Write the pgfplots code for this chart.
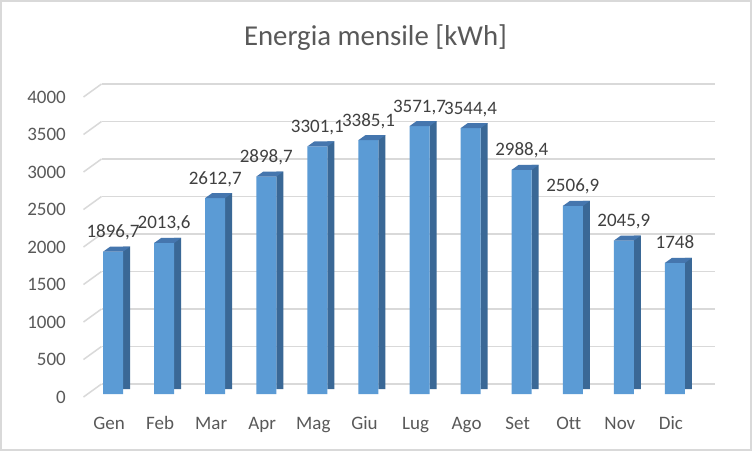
\documentclass[border=0pt]{standalone}
\usepackage{pgfplots}
\pgfplotsset{compat=1.18}
\usepackage{pgfplotstable}
\usepackage{fontspec}
\setmainfont{Carlito}[Ligatures={NoCommon}]

\definecolor{barfront}{HTML}{5B9BD5}
\definecolor{barside}{HTML}{3A6896}
\definecolor{bartop}{HTML}{4576AE}
\definecolor{gridgray}{HTML}{D9D9D9}
\definecolor{txtgray}{HTML}{595959}
\definecolor{lblgray}{HTML}{404040}

\pgfplotstableread{
x mese v
0 Gen 1896.7
1 Feb 2013.6
2 Mar 2612.7
3 Apr 2898.7
4 Mag 3301.1
5 Giu 3385.1
6 Lug 3571.7
7 Ago 3544.4
8 Set 2988.4
9 Ott 2506.9
10 Nov 2045.9
11 Dic 1748
}\energia

% top face of a 3D bar, drawn at the bar's top centre
\pgfdeclareplotmark{top3d}{%
  \pgfpathmoveto{\pgfqpoint{-10pt}{0pt}}%
  \pgfpathlineto{\pgfqpoint{10pt}{0pt}}%
  \pgfpathlineto{\pgfqpoint{17pt}{5pt}}%
  \pgfpathlineto{\pgfqpoint{-3pt}{5pt}}%
  \pgfpathclose
  \pgfusepathqfill}

\begin{document}
\begin{tikzpicture}
\path[fill=white, use as bounding box] (0,0) rectangle (752pt,451pt);
\draw[gridgray, line width=1.5pt] (1pt,1pt) rectangle (751pt,450pt);

\node[font=\fontsize{28.8}{34}\selectfont, text=txtgray, anchor=base]
  at (375.5pt,406pt) {Energia mensile [kWh]};

\begin{axis}[
    at={(87.5pt,57pt)}, anchor=south west,
    scale only axis, width=613pt, height=300pt,
    xmin=-0.5, xmax=11.5, ymin=0, ymax=4000,
    axis line style={draw=none}, major tick length=0pt,
    xtick=data, xticklabels from table={\energia}{mese},
    ytick={0,500,...,4000},
    ymajorgrids,
    major grid style={gridgray, line width=1.5pt, xshift=14pt, yshift=10pt},
    tick label style={font=\fontsize{19}{22}\selectfont, text=txtgray, inner sep=0pt},
    /pgf/number format/assume math mode=true,
    /pgf/number format/use comma,
    /pgf/number format/1000 sep={},
    yticklabel style={anchor=east, xshift=-21.5pt, yshift=-3pt},
    xticklabel style={anchor=base, yshift=-35pt, xshift=-4pt},
    clip=false,
]
\pgfplotsinvokeforeach{0,500,...,4000}{
  \draw[gridgray, line width=1.5pt] (axis cs:-0.5,#1) ++(-4pt,-3pt) -- ++(18pt,13pt);
}
% side faces
\addplot[ybar, bar width=7pt, bar shift=13.5pt, fill=barside, draw=none, yshift=5pt]
  table[x=x, y=v] {\energia};
% front faces with value labels
\addplot[ybar, bar width=20pt, bar shift=0pt, fill=barfront, draw=none,
  nodes near coords,
  every node near coord/.append style={anchor=base, yshift=14pt, inner sep=0pt,
    font=\fontsize{19}{22}\selectfont, text=lblgray}]
  table[x=x, y=v] {\energia};
% top faces
\addplot[only marks, mark=top3d, color=bartop]
  table[x=x, y=v] {\energia};
\end{axis}
\end{tikzpicture}
\end{document}
